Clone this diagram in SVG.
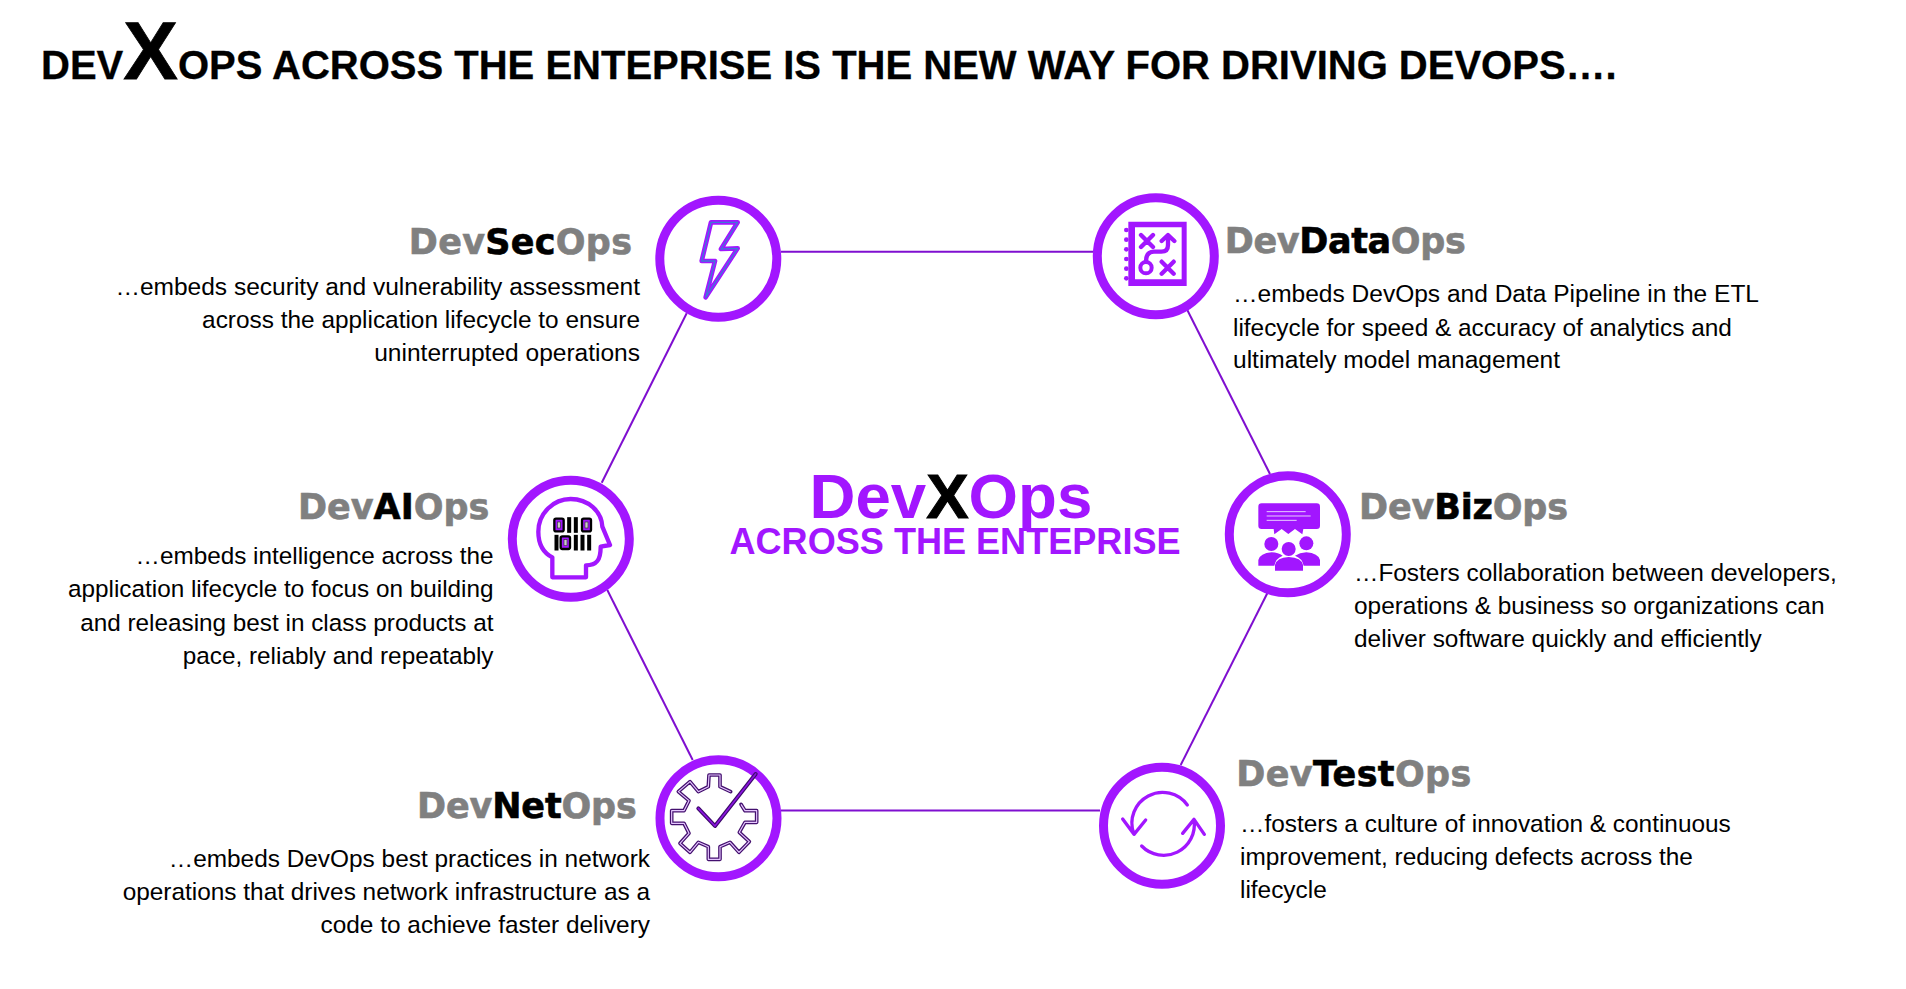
<svg xmlns="http://www.w3.org/2000/svg" width="1906" height="989" viewBox="0 0 1906 989">
<style>
text{font-family:"Liberation Sans",Arial,sans-serif;fill:#000}
.title{font-size:40px;font-weight:700;stroke:#000;stroke-width:.3}
.big{font-size:82px;stroke-width:.8}
.h{font-family:"DejaVu Sans","Liberation Sans",sans-serif;font-size:35px;font-weight:700;fill:#808080;stroke:#808080;stroke-width:.6}
.k{fill:#000;stroke:#000}
.d{font-size:24.4px}
.w{font-size:24.52px}
.n{font-size:24.3px}
.e{text-anchor:end}
.ring{fill:#fff;stroke:#a216ff;stroke-width:9}
.link{stroke:#7f0fd0;stroke-width:2;fill:none}
.ic{fill:none;stroke:#a216ff;stroke-linecap:round;stroke-linejoin:round}
.pf{fill:#a216ff}
.c1{font-size:63.6px;font-weight:700;fill:#a216ff}
.c2{font-size:36.1px;font-weight:700;fill:#a216ff}
</style>
<rect width="1906" height="989" fill="#fff"/>
<text id="title" class="title" x="41" y="79">DEV<tspan class="big">X</tspan>OPS ACROSS THE ENTEPRISE IS THE NEW WAY FOR DRIVING DEVOPS….</text>
<g id="connectors">
<path class="link" d="M781 251.7H1094"/>
<path class="link" d="M781 810.5H1100"/>
<path class="link" d="M686.7 313.3L601.7 482.7"/>
<path class="link" d="M1187.3 310L1270 474"/>
<path class="link" d="M607.3 590L692.7 760"/>
<path class="link" d="M1267.3 593.3L1180.7 765"/>
</g>
<g id="center">
<text class="c1" x="809.5" y="518">Dev<tspan class="k">X</tspan>Ops</text>
<text class="c2" x="729.5" y="554">ACROSS THE ENTEPRISE</text>
</g>
<g id="devsecops">
<circle class="ring" cx="718.3" cy="258.8" r="58.5"/>
<g transform="translate(640 170) scale(.33333)">
<path class="ic" stroke-width="14" d="M213 157H293L243 237L293 235L197 382L225 273H185Z"/>
<path fill="none" stroke="#3f78d8" stroke-width="4" stroke-linejoin="round" d="M213 157H293L243 237L293 235L197 382L225 273H185Z"/>
</g>
<text class="h" x="408.8" y="254" style="letter-spacing:.28px">Dev<tspan class="k">Sec</tspan>Ops</text>
<text class="d w e" x="640" y="295">…embeds security and vulnerability assessment</text>
<text class="d e" x="640" y="328">across the application lifecycle to ensure</text>
<text class="d w e" x="640" y="361">uninterrupted operations</text>
</g>
<g id="devdataops">
<circle class="ring" cx="1155.8" cy="256.3" r="58.5"/>
<g transform="translate(1080 170) scale(.33333)">
<path class="pf" fill-rule="evenodd" d="M145 155H320V348H145ZM165 172V328H305V172Z"/>
<g class="pf"><circle cx="139" cy="180" r="7"/><circle cx="139" cy="209" r="7"/><circle cx="139" cy="238" r="7"/><circle cx="139" cy="267" r="7"/><circle cx="139" cy="296" r="7"/><circle cx="139" cy="325" r="7"/></g>
<path class="ic" stroke-width="13" d="M183 195L219 231M219 195L183 231M245 275L281 311M281 275L245 311M245 213L264 195L283 213M264 197V225Q264 245 244 245H222Q198 245 198 274"/>
<circle class="ic" stroke-width="12" cx="198" cy="293" r="17"/>
</g>
<text class="h" x="1224.8" y="253" style="letter-spacing:-.37px">Dev<tspan class="k">Data</tspan>Ops</text>
<text class="d w" x="1233" y="302">…embeds DevOps and Data Pipeline in the ETL</text>
<text class="d" x="1233" y="335.5">lifecycle for speed &amp; accuracy of analytics and</text>
<text class="d w" x="1233" y="368">ultimately model management</text>
</g>
<g id="devaiops">
<circle class="ring" cx="570.8" cy="538.8" r="58.5"/>
<g transform="translate(500 460) scale(.33333)">
<path class="ic" stroke-width="13" d="M157 352V292C130 278 115 250 115 215C115 160 160 117 212 117C265 117 305 155 307 200L330 255L302 260C302 300 290 316 258 316V352Z"/>
<g fill="#a216ff" stroke="#000" stroke-width="7">
<rect x="163" y="176" width="28" height="38" rx="5"/><rect x="246" y="176" width="27" height="38" rx="5"/><rect x="182" y="229" width="28" height="38" rx="5"/>
<rect x="205" y="175" width="5" height="40"/><rect x="225" y="175" width="5" height="40"/>
<rect x="167" y="228" width="5" height="40"/><rect x="225" y="228" width="5" height="40"/><rect x="245" y="228" width="5" height="40"/><rect x="265" y="228" width="5" height="40"/>
</g>
<g fill="#ccc" stroke="#333" stroke-width="2"><rect x="172" y="186" width="9" height="18"/><rect x="255" y="186" width="9" height="18"/><rect x="192" y="239" width="9" height="18"/></g>
</g>
<text class="h" x="298" y="519">Dev<tspan class="k">AI</tspan>Ops</text>
<text class="d n e" x="493.5" y="564">…embeds intelligence across the</text>
<text class="d n e" x="493.5" y="597">application lifecycle to focus on building</text>
<text class="d n e" x="493.5" y="631">and releasing best in class products at</text>
<text class="d n e" x="493.5" y="664">pace, reliably and repeatably</text>
</g>
<g id="devbizops">
<circle class="ring" cx="1287.8" cy="534.3" r="58.5"/>
<g transform="translate(1215 460) scale(.33333)">
<path class="pf" d="M140 130H305Q315 130 315 140V197Q315 207 305 207H265L262 223L240 207L220 222L200 207L178 223L176 207H140Q130 207 130 197V140Q130 130 140 130Z"/>
<path stroke="#e8d0ff" stroke-width="3" d="M155 155H272M155 168H287M155 181H245"/>
<g class="pf"><circle cx="169" cy="252" r="21"/><circle cx="274" cy="250" r="21"/><circle cx="221" cy="267" r="21"/>
<path d="M130 317V300Q135 280 170 277Q190 278 203 287Q182 295 178 317ZM315 317V300Q310 280 274 277Q254 278 240 287Q262 295 266 317Z"/>
<path d="M180 332V315Q185 293 221 291Q260 293 264 315V332Z"/></g>
</g>
<text class="h" x="1359" y="519" style="letter-spacing:-.15px">Dev<tspan class="k">Biz</tspan>Ops</text>
<text class="d" x="1354" y="580.5">…Fosters collaboration between developers,</text>
<text class="d" x="1354" y="613.5">operations &amp; business so organizations can</text>
<text class="d" x="1354" y="646.5">deliver software quickly and efficiently</text>
</g>
<g id="devnetops">
<circle class="ring" cx="718.5" cy="818.3" r="58.5"/>
<g transform="translate(640 745) scale(.33333)">
<path fill="none" stroke="#44106f" stroke-width="11" stroke-linecap="round" stroke-linejoin="round" d="M272 140L240 125V90H207L205 125L175 140L150 110L115 140L147 167L132 197H95V235H132L147 265L120 295L150 322L175 292L205 305V343H240V305L270 292L297 322L328 290L298 262L315 232H350V197H315L303 178"/>
<path fill="none" stroke="#e6c8ff" stroke-width="3.5" stroke-linejoin="round" d="M272 140L240 125V90H207L205 125L175 140L150 110L115 140L147 167L132 197H95V235H132L147 265L120 295L150 322L175 292L205 305V343H240V305L270 292L297 322L328 290L298 262L315 232H350V197H315L303 178"/>
<path fill="none" stroke="#3d0a6b" stroke-width="12" stroke-linecap="round" stroke-linejoin="round" d="M175 190L225 243L347 87"/>
<path fill="none" stroke="#8a14e0" stroke-width="5" stroke-linecap="round" stroke-linejoin="round" d="M175 190L225 243L347 87"/>
</g>
<text class="h" x="417" y="818" style="letter-spacing:-.15px">Dev<tspan class="k">Net</tspan>Ops</text>
<text class="d e" x="650" y="867">…embeds DevOps best practices in network</text>
<text class="d e" x="650" y="900">operations that drives network infrastructure as a</text>
<text class="d e" x="650" y="933">code to achieve faster delivery</text>
</g>
<g id="devtestops">
<circle class="ring" cx="1162" cy="825.7" r="58.5"/>
<g transform="translate(1085 750) scale(.33333)">
<path class="ic" stroke-width="10" d="M307 165A92 92 0 0 0 146 250M113 207L147 253L182 210M170 288A92 92 0 0 0 327 210M293 250L327 208L358 253"/>
</g>
<text class="h" x="1236.3" y="785.5" style="letter-spacing:.36px">Dev<tspan class="k">Test</tspan>Ops</text>
<text class="d" x="1240" y="831.5">…fosters a culture of innovation &amp; continuous</text>
<text class="d" x="1240" y="864.5">improvement, reducing defects across the</text>
<text class="d" x="1240" y="897.5">lifecycle</text>
</g>
</svg>
